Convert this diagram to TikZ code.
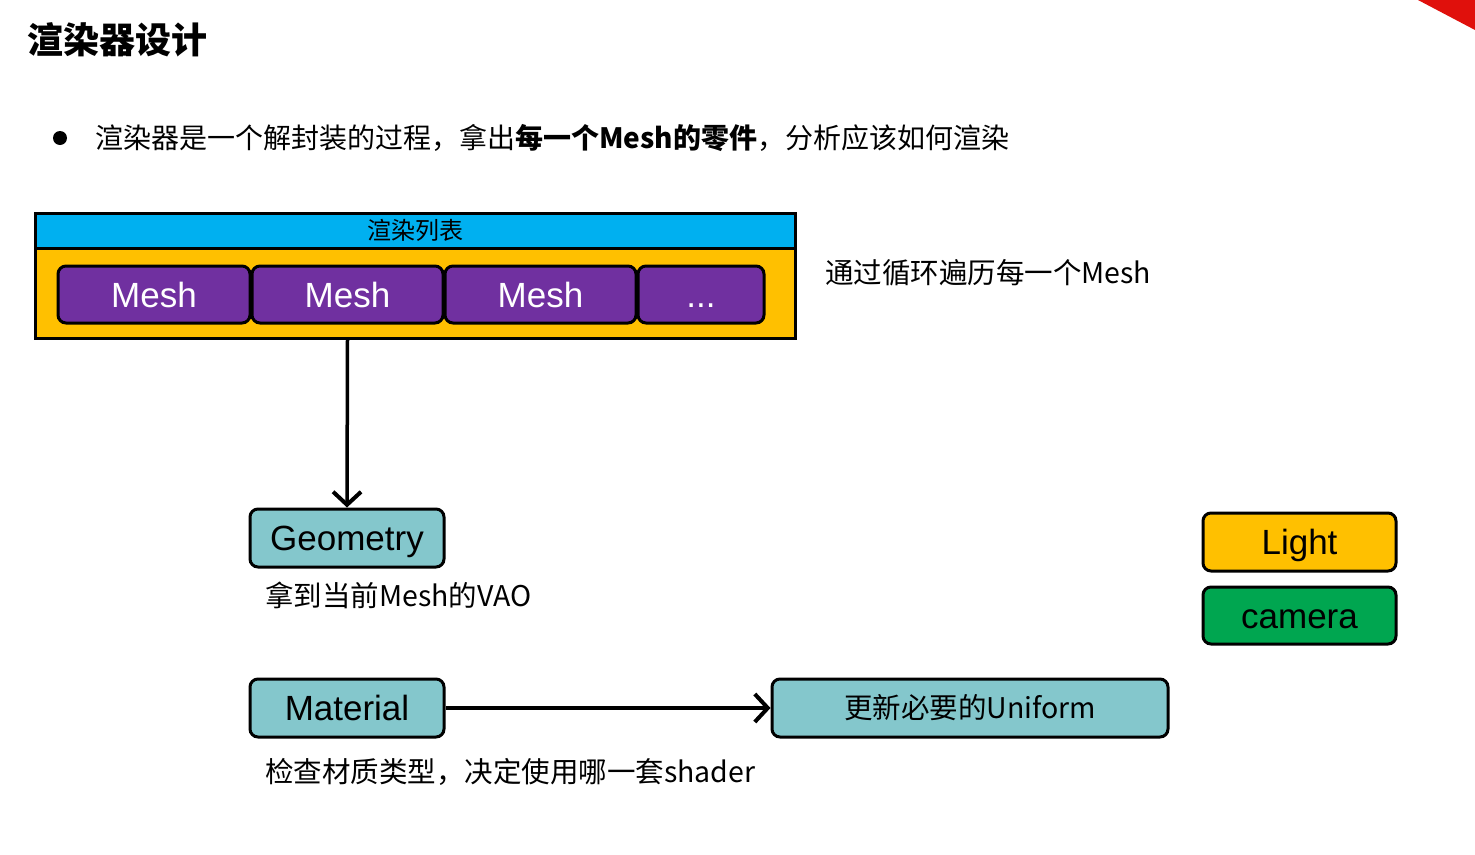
\documentclass[tikz,border=0pt]{standalone}
\usepackage{fontspec}
\setmainfont{Noto Sans CJK SC}
\newfontfamily\arialf{Liberation Sans}
\usetikzlibrary{arrows.meta}
\definecolor{blueh}{HTML}{00B0F0}
\definecolor{yel}{HTML}{FFC000}
\definecolor{purp}{HTML}{7030A0}
\definecolor{tealb}{HTML}{84C7CC}
\definecolor{grn}{HTML}{00A650}
\definecolor{redc}{HTML}{E0100C}
\begin{document}
\begin{tikzpicture}[x=1pt,y=-1pt,
  box/.style={draw=black, line width=3pt, rounded corners=8pt, inner sep=0pt,
    font=\arialf\fontsize{35}{40}\selectfont, text height=25pt, text depth=0pt},
  meshbox/.style={box, fill=purp, text=white, minimum height=57pt},
  tbox/.style={box, fill=tealb, minimum width=194pt, minimum height=58pt},
  cjk/.style={inner sep=0pt, anchor=west, font=\fontsize{28.5}{34}\selectfont},
  arr/.style={line width=3.5pt, -{Straight Barb[length=13pt,width=28pt,line width=4pt]}}]
\useasboundingbox (0,0) rectangle (1475,854);
\fill[redc] (1418,0) -- (1475,0) -- (1475,30) -- cycle;
% title and bullet
\node[inner sep=0pt, anchor=west, font=\fontsize{36}{40}\selectfont\bfseries] (title) at (27,40) {渲染器设计};
\fill (60,138) circle (7pt);
\node[cjk, font=\fontsize{28}{34}\selectfont] (bullet) at (95,138) {渲染器是一个解封装的过程，拿出\textbf{每一个Mesh的零件}，分析应该如何渲染};
% render list
\node[draw=black, line width=3pt, fill=yel, minimum width=760pt, minimum height=90pt, inner sep=0pt] (list) at (415,293) {};
\node[draw=black, line width=3pt, fill=blueh, minimum width=760pt, minimum height=35pt, inner sep=0pt,
  font=\fontsize{24}{28}\selectfont] (head) at (415,230.5) {渲染列表};
\node[meshbox, minimum width=192pt] (m1) at (154,294.5) {Mesh};
\node[meshbox, minimum width=191pt] (m2) at (347.5,294.5) {Mesh};
\node[meshbox, minimum width=191pt] (m3) at (540.5,294.5) {Mesh};
\node[meshbox, minimum width=126pt] (m4) at (701,294.5) {...};
\node[cjk] (loop) at (825,273) {通过循环遍历每一个Mesh};
% geometry
\node[tbox] (geom) at (347,538) {Geometry};
\node[cjk] (geoml) at (265,595) {拿到当前Mesh的VAO};
\draw[arr] (m2.south |- list.south) -- (geom.north);
% material
\node[tbox] (mat) at (347,708) {Material};
\node[cjk] (matl) at (265,772) {检查材质类型，决定使用哪一套shader};
\node[box, fill=tealb, minimum width=396pt, minimum height=58pt,
  font=\fontsize{28.5}{34}\selectfont, text height=20pt] (unif) at (970,708) {更新必要的Uniform};
\draw[arr] (mat.east) -- (unif.west);
% light & camera
\node[box, fill=yel, minimum width=193pt, minimum height=58pt] (light) at (1299.5,542) {Light};
\node[box, fill=grn, minimum width=193pt, minimum height=57pt] (cam) at (1299.5,615.5) {camera};
\end{tikzpicture}
\end{document}
